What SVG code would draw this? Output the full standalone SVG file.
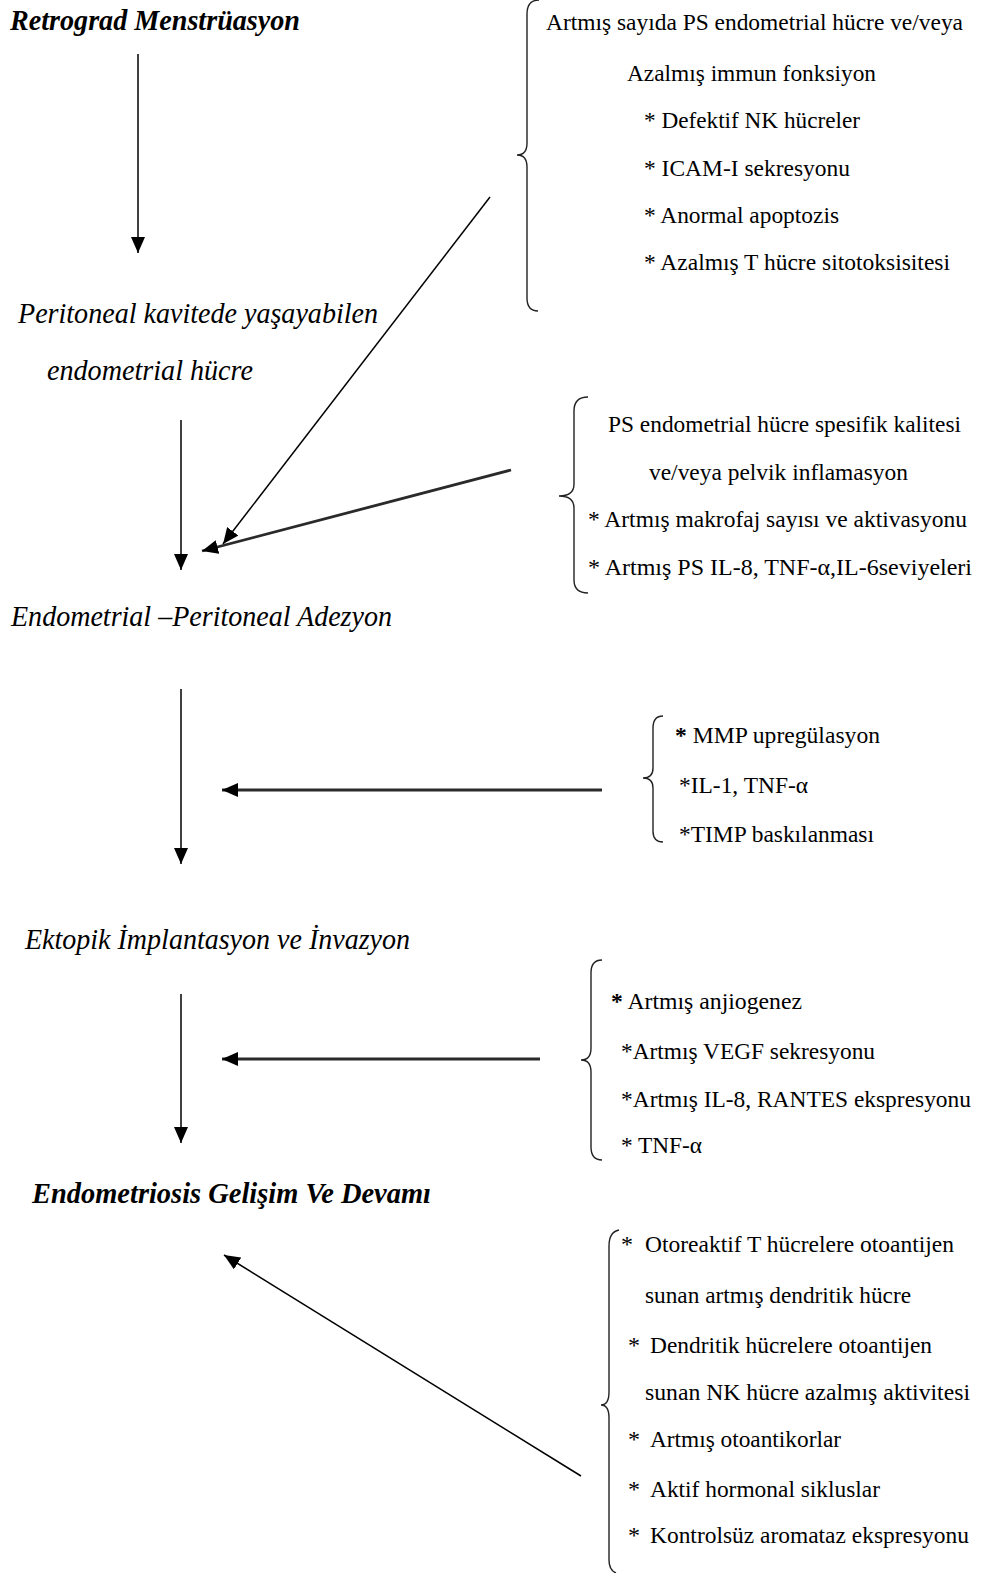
<svg xmlns="http://www.w3.org/2000/svg" width="982" height="1573" viewBox="0 0 982 1573">
<style>
text{font-family:"Liberation Serif","Times New Roman",serif;fill:#000;}
.lab{font-size:29px;font-style:italic;}
.b{font-weight:bold;}
.r{font-size:24px;}
.brace{fill:none;stroke:#222;stroke-width:1.4;}
.thin{stroke:#000;stroke-width:1.5;fill:none;}
.thick{stroke:#2a2a2a;stroke-width:2.8;fill:none;}
</style>
<defs>
<marker id="ah" markerUnits="userSpaceOnUse" markerWidth="17" markerHeight="14" refX="16" refY="7" orient="auto">
<path d="M0,0 L16,7 L0,14 z" fill="#000"/>
</marker>
</defs>
<rect width="982" height="1573" fill="#fff"/>

<g id="node-retrograd">
<text class="lab b" x="10" y="30" font-size="29" textLength="290" lengthAdjust="spacingAndGlyphs">Retrograd Menstrüasyon</text>
</g>
<g id="node-peritoneal">
<text class="lab" x="18" y="323" textLength="360" lengthAdjust="spacingAndGlyphs">Peritoneal kavitede yaşayabilen</text>
<text class="lab" x="47" y="380" textLength="206" lengthAdjust="spacingAndGlyphs">endometrial hücre</text>
</g>
<g id="node-adezyon">
<text class="lab" x="11" y="626" font-size="28" textLength="381" lengthAdjust="spacingAndGlyphs">Endometrial –Peritoneal Adezyon</text>
</g>
<g id="node-ektopik">
<text class="lab" x="25" y="949" font-size="27" textLength="385" lengthAdjust="spacingAndGlyphs">Ektopik İmplantasyon ve İnvazyon</text>
</g>
<g id="node-gelisim">
<text class="lab b" x="32" y="1203" font-size="28" textLength="399" lengthAdjust="spacingAndGlyphs">Endometriosis Gelişim Ve Devamı</text>
</g>

<g id="node-factors1">
<path class="brace" d="M539,0 Q527,0 527,14 L527,143 Q527,155 517,155 Q527,155 527,167 L527,298 Q527,311 538,311"/>
<text class="r" x="546" y="30" textLength="417" lengthAdjust="spacingAndGlyphs">Artmış sayıda PS endometrial hücre ve/veya</text>
<text class="r" x="627" y="81" textLength="249" lengthAdjust="spacingAndGlyphs">Azalmış immun fonksiyon</text>
<text class="r" x="644" y="128" textLength="216" lengthAdjust="spacingAndGlyphs">* Defektif NK hücreler</text>
<text class="r" x="644" y="176" textLength="206" lengthAdjust="spacingAndGlyphs">* ICAM-I sekresyonu</text>
<text class="r" x="644" y="223" textLength="195" lengthAdjust="spacingAndGlyphs">* Anormal apoptozis</text>
<text class="r" x="644" y="270" textLength="306" lengthAdjust="spacingAndGlyphs">* Azalmış T hücre sitotoksisitesi</text>
</g>

<g id="node-factors2">
<path class="brace" d="M588,397 Q574,397 574,411 L574,484 Q574,496 559,496 Q574,496 574,508 L574,580 Q574,593 588,593"/>
<text class="r" x="608" y="432" textLength="353" lengthAdjust="spacingAndGlyphs">PS endometrial hücre spesifik kalitesi</text>
<text class="r" x="649" y="480" textLength="259" lengthAdjust="spacingAndGlyphs">ve/veya pelvik inflamasyon</text>
<text class="r" x="588" y="527" textLength="379" lengthAdjust="spacingAndGlyphs">* Artmış makrofaj sayısı ve aktivasyonu</text>
<text class="r" x="588" y="575" textLength="384" lengthAdjust="spacingAndGlyphs">* Artmış PS IL-8, TNF-α,IL-6seviyeleri</text>
</g>

<g id="node-factors3">
<path class="brace" d="M663,716 Q653,716 653,728 L653,768 Q653,778 643,778 Q653,778 653,788 L653,831 Q653,842 663,842"/>
<text class="r" x="675" y="743" textLength="205" lengthAdjust="spacingAndGlyphs"><tspan font-weight="bold">*</tspan> MMP upregülasyon</text>
<text class="r" x="679" y="793" textLength="129" lengthAdjust="spacingAndGlyphs">*IL-1, TNF-α</text>
<text class="r" x="679" y="842" textLength="195" lengthAdjust="spacingAndGlyphs">*TIMP baskılanması</text>
</g>

<g id="node-factors4">
<path class="brace" d="M602,960 Q591,960 591,973 L591,1048 Q591,1060 581,1060 Q591,1060 591,1072 L591,1147 Q591,1160 602,1160"/>
<text class="r" x="611" y="1009" textLength="191" lengthAdjust="spacingAndGlyphs"><tspan font-weight="bold">*</tspan> Artmış anjiogenez</text>
<text class="r" x="621" y="1059" textLength="254" lengthAdjust="spacingAndGlyphs">*Artmış VEGF sekresyonu</text>
<text class="r" x="621" y="1107" textLength="350" lengthAdjust="spacingAndGlyphs">*Artmış IL-8, RANTES ekspresyonu</text>
<text class="r" x="621" y="1153" textLength="81" lengthAdjust="spacingAndGlyphs">* TNF-α</text>
</g>

<g id="node-factors5">
<path class="brace" d="M619,1230 Q609,1232 609,1246 L609,1392 Q609,1405 601,1405 Q609,1405 609,1418 L609,1560 Q609,1570 616,1573"/>
<text class="r" x="621" y="1252">*<tspan x="645" textLength="309" lengthAdjust="spacingAndGlyphs">Otoreaktif T hücrelere otoantijen</tspan></text>
<text class="r" x="645" y="1303" textLength="266" lengthAdjust="spacingAndGlyphs">sunan artmış dendritik hücre</text>
<text class="r" x="628" y="1353">*<tspan x="650" textLength="282" lengthAdjust="spacingAndGlyphs">Dendritik hücrelere otoantijen</tspan></text>
<text class="r" x="645" y="1400" textLength="325" lengthAdjust="spacingAndGlyphs">sunan NK hücre azalmış aktivitesi</text>
<text class="r" x="628" y="1447">*<tspan x="650" textLength="191" lengthAdjust="spacingAndGlyphs">Artmış otoantikorlar</tspan></text>
<text class="r" x="628" y="1497">*<tspan x="650" textLength="230" lengthAdjust="spacingAndGlyphs">Aktif hormonal sikluslar</tspan></text>
<text class="r" x="628" y="1543">*<tspan x="650" textLength="319" lengthAdjust="spacingAndGlyphs">Kontrolsüz aromataz ekspresyonu</tspan></text>
</g>

<g id="connectors">
<line class="thin" x1="138" y1="54" x2="138" y2="253" marker-end="url(#ah)"/>
<line class="thin" x1="181" y1="420" x2="181" y2="570" marker-end="url(#ah)"/>
<line class="thin" x1="490" y1="197" x2="223" y2="544" marker-end="url(#ah)"/>
<line class="thick" x1="511" y1="470" x2="202" y2="551" marker-end="url(#ah)"/>
<line class="thin" x1="181" y1="689" x2="181" y2="864" marker-end="url(#ah)"/>
<line class="thick" x1="602" y1="790" x2="222" y2="790" marker-end="url(#ah)"/>
<line class="thin" x1="181" y1="994" x2="181" y2="1143" marker-end="url(#ah)"/>
<line class="thick" x1="540" y1="1059" x2="222" y2="1059" marker-end="url(#ah)"/>
<line class="thin" x1="581" y1="1476" x2="224" y2="1255" marker-end="url(#ah)"/>
</g>
</svg>
